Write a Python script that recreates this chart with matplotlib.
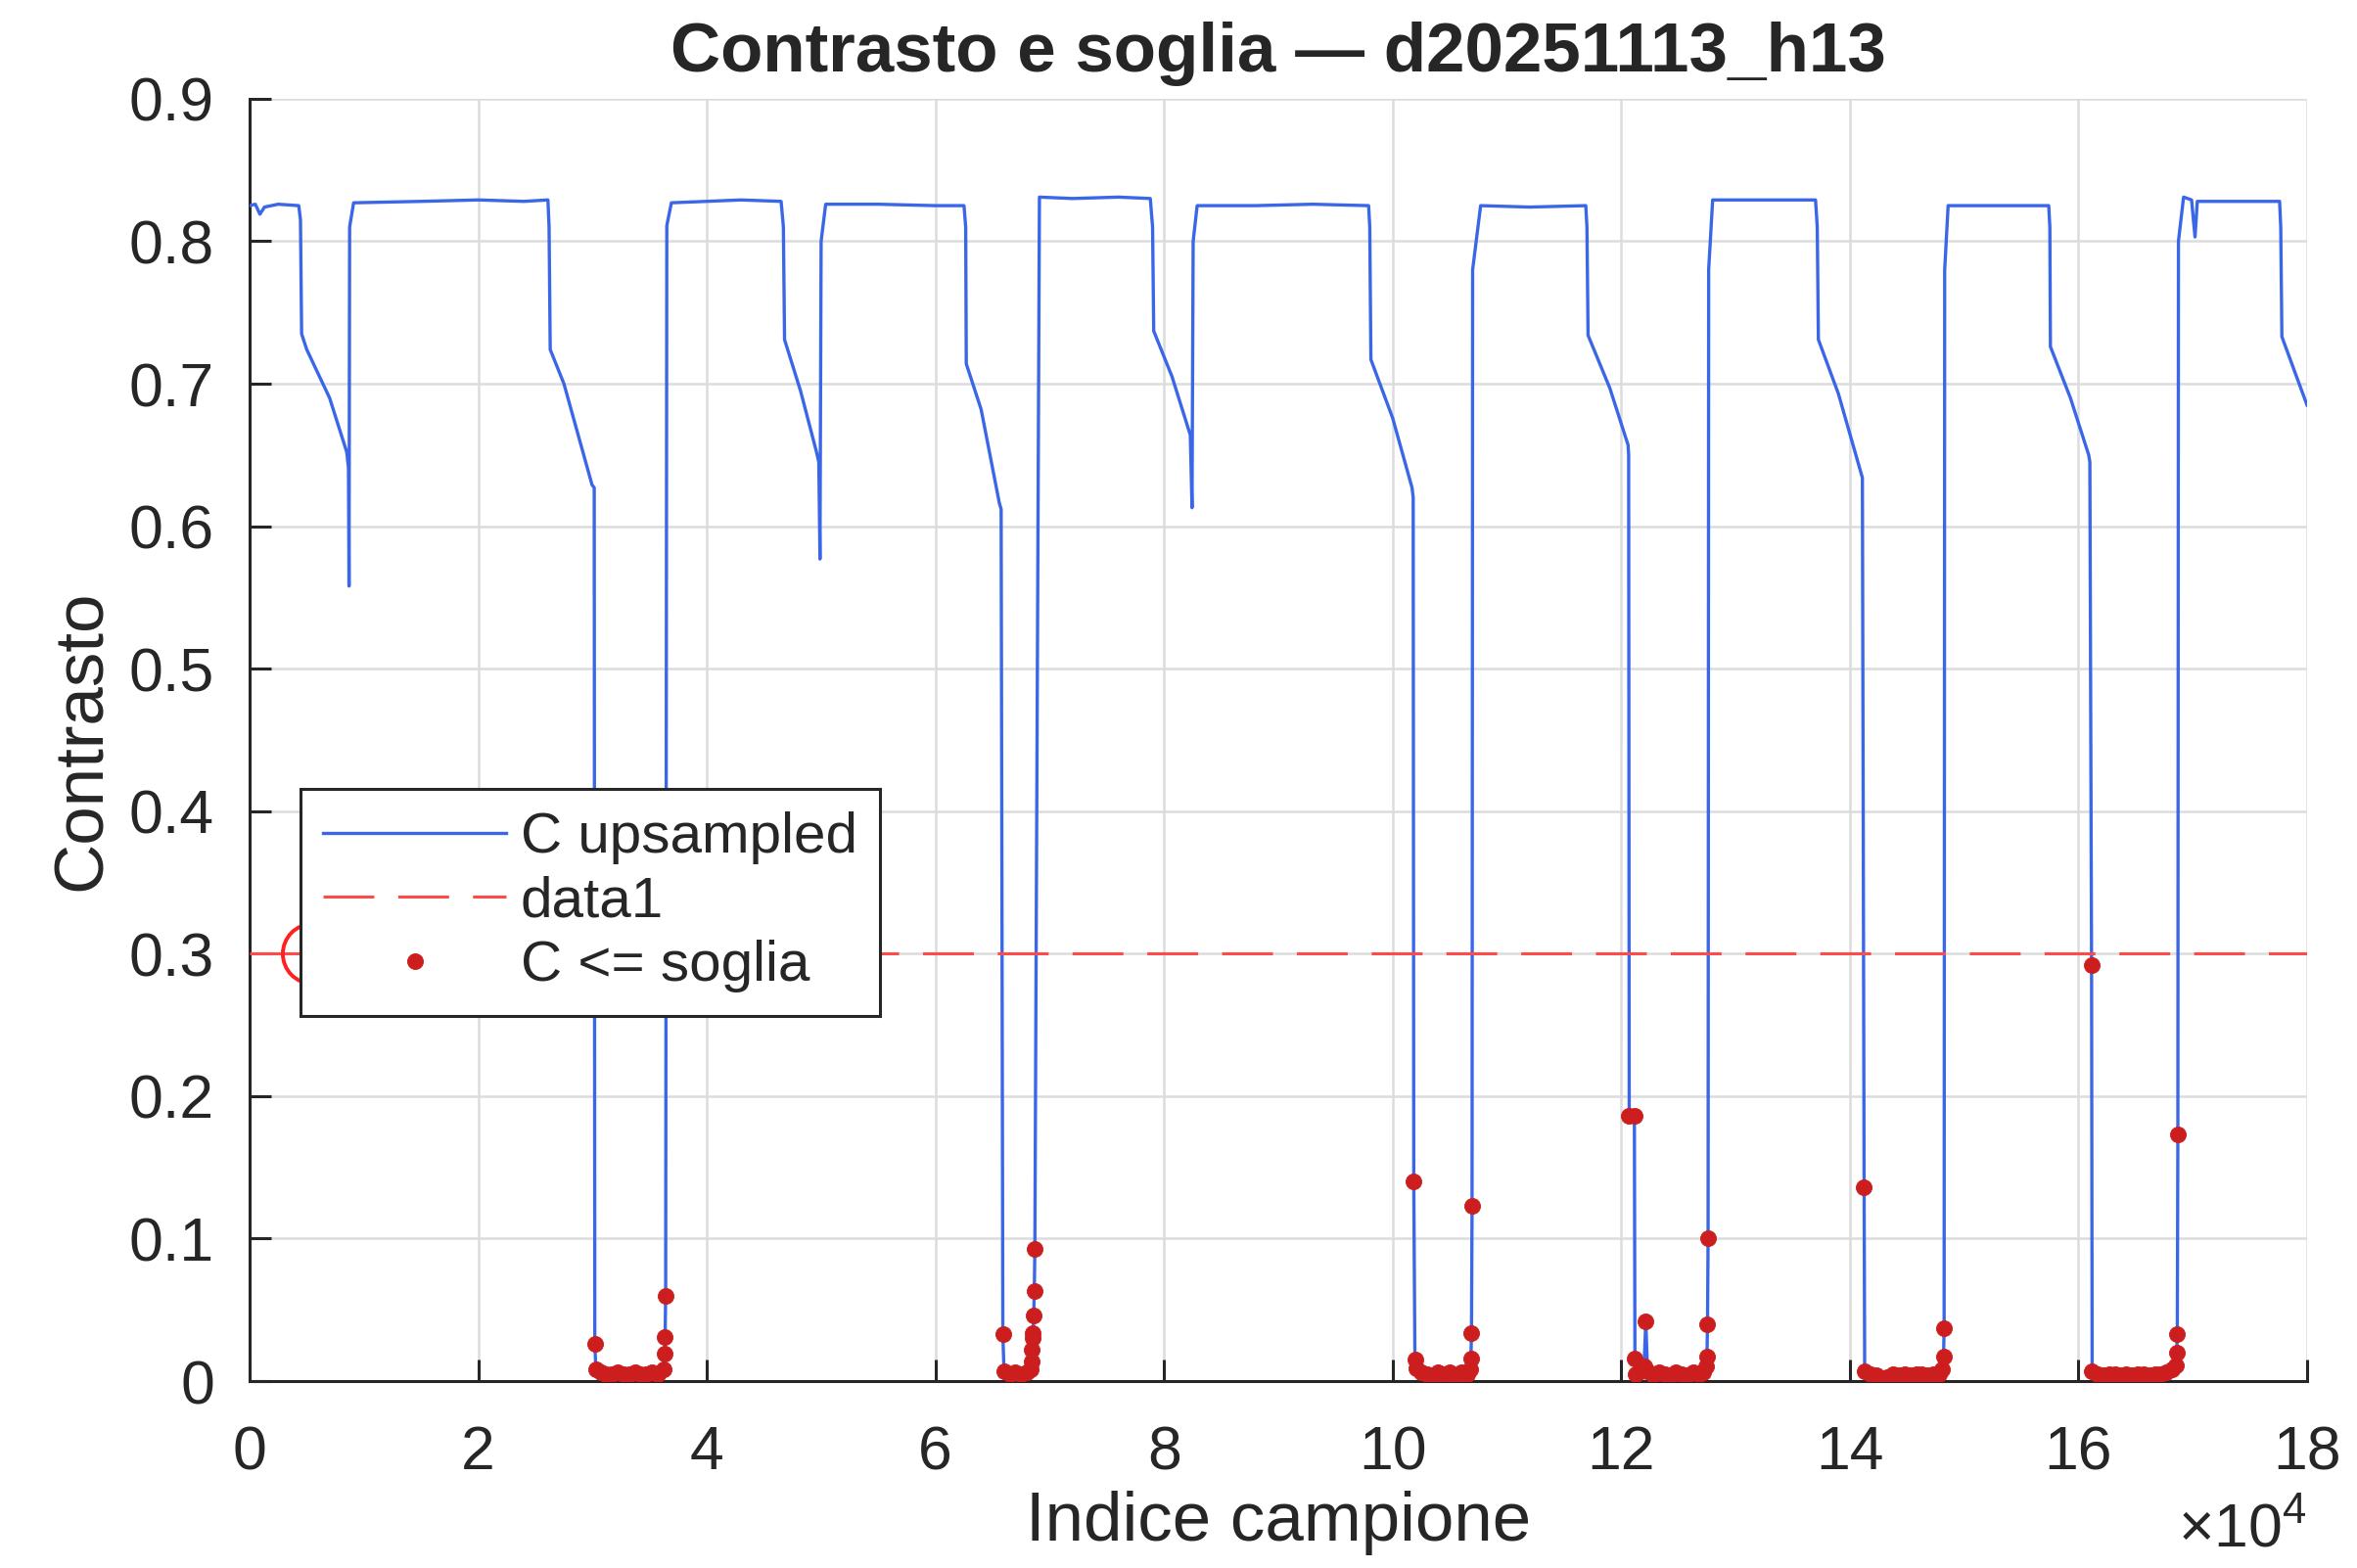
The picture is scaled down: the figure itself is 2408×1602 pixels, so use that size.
import numpy as np
import matplotlib
matplotlib.use("Agg")
import matplotlib.pyplot as plt

plt.rcParams['font.family'] = ['Liberation Sans', 'DejaVu Sans']
plt.rcParams['mathtext.fontset'] = 'custom'
plt.rcParams['mathtext.rm'] = 'Liberation Sans'
plt.rcParams['mathtext.it'] = 'Liberation Sans:italic'

# ---------------- data ----------------
title = "Contrasto e soglia \u2014 d20251113_h13"
xlabel = "Indice campione"
ylabel = "Contrasto"
legend_labels = ["C upsampled", "data1", "C <= soglia"]

soglia = 0.3
marker_x = 5500          # red open circle on the threshold line

sample_idx = [
    0, 500, 900, 1300, 2500, 4300, 4450, 4550, 5000, 7000, 8500, 8650, 8700, 8750, 9100,
    15000, 20000, 24000, 26100, 26200, 26300, 27500, 29960, 30150,
    30200, 30300, 30700, 31200, 31700, 32200, 32700, 33200, 33700, 34200, 34700, 35200, 35700,
    36200, 36300, 36350, 36400, 36500, 36900,
    40000, 43000, 46500, 46700, 46800, 48200, 49600, 49800, 49900, 50000, 50400,
    55000, 60000, 62500, 62650, 62700, 64000, 65600, 65750,
    65900, 66000, 66500, 67000, 67500, 68000, 68300, 68400, 68450, 68500, 68550, 68600,
    68650, 68700, 69100,
    72000, 76000, 78800, 79000, 79100, 80700, 82300, 82450, 82550, 82900,
    88000, 93000, 97900, 98000, 98100, 100000, 101700, 101800, 101850,
    101950, 102050, 102500, 103000, 103500, 104000, 104500, 105000, 105500, 106000, 106500,
    106800, 106850, 106900, 106950, 107000, 107700,
    112000, 116900, 117000, 117100, 119000, 120600, 120650, 120700, 121150,
    121200, 121300, 121700, 122000, 122150, 122300, 122800, 123300, 123800, 124300, 124800,
    125300, 125800, 126300, 126800, 127200, 127450, 127500, 127550, 127600, 127650, 128000,
    132000, 137000, 137150, 137250, 139000, 141100, 141250,
    141300, 141800, 142300, 142800, 143300, 143800, 144300, 144800, 145300, 145800, 146300,
    146800, 147300, 147800, 148100, 148200, 148250, 148300, 148600,
    153000, 157400, 157500, 157550, 159300, 160900, 161000,
    161150, 161200, 161700, 162200, 162700, 163200, 163700, 164200, 164700, 165200, 165700,
    166200, 166700, 167200, 167700, 168200, 168500, 168600, 168650, 168700, 168750, 169200,
    169900, 170200, 170400, 173000, 177600, 177700, 177800, 180000,
]
contrast = [
    0.825, 0.826, 0.819, 0.824, 0.826, 0.825, 0.815, 0.735, 0.724, 0.690, 0.652, 0.641, 0.558, 0.810, 0.827,
    0.828, 0.829, 0.828, 0.829, 0.810, 0.724, 0.700, 0.629, 0.627,
    0.026, 0.008, 0.006, 0.005, 0.005, 0.006, 0.005, 0.005, 0.006, 0.005, 0.005, 0.006, 0.005,
    0.008, 0.019, 0.031, 0.060, 0.811, 0.827,
    0.828, 0.829, 0.828, 0.810, 0.731, 0.695, 0.652, 0.645, 0.577, 0.800, 0.826,
    0.826, 0.825, 0.825, 0.810, 0.714, 0.682, 0.616, 0.612,
    0.033, 0.007, 0.005, 0.006, 0.005, 0.006, 0.008, 0.014, 0.022, 0.030, 0.034, 0.046,
    0.063, 0.093, 0.831,
    0.830, 0.831, 0.830, 0.810, 0.737, 0.705, 0.664, 0.613, 0.800, 0.825,
    0.825, 0.826, 0.825, 0.810, 0.717, 0.676, 0.627, 0.620, 0.140,
    0.015, 0.009, 0.006, 0.005, 0.003, 0.006, 0.005, 0.006, 0.002, 0.006, 0.005,
    0.008, 0.016, 0.034, 0.123, 0.780, 0.825,
    0.824, 0.825, 0.810, 0.734, 0.697, 0.657, 0.650, 0.186, 0.186,
    0.016, 0.005, 0.007, 0.010, 0.042, 0.007, 0.004, 0.006, 0.005, 0.004, 0.006,
    0.005, 0.004, 0.006, 0.005, 0.006, 0.010, 0.017, 0.040, 0.100, 0.780, 0.829,
    0.829, 0.829, 0.810, 0.731, 0.693, 0.634, 0.136,
    0.007, 0.005, 0.004, 0.002, 0.003, 0.005, 0.004, 0.005, 0.004, 0.005, 0.005,
    0.004, 0.005, 0.005, 0.008, 0.017, 0.037, 0.780, 0.825,
    0.825, 0.825, 0.810, 0.726, 0.690, 0.650, 0.645,
    0.292, 0.007, 0.005, 0.004, 0.005, 0.005, 0.004, 0.005, 0.004, 0.005, 0.005,
    0.004, 0.005, 0.005, 0.006, 0.008, 0.011, 0.020, 0.033, 0.173, 0.800, 0.831,
    0.829, 0.803, 0.828, 0.828, 0.828, 0.810, 0.733, 0.685,
]

x_ticks = [0, 20000, 40000, 60000, 80000, 100000, 120000, 140000, 160000, 180000]
x_tick_labels = ["0", "2", "4", "6", "8", "10", "12", "14", "16", "18"]
y_ticks = [0, 0.1, 0.2, 0.3, 0.4, 0.5, 0.6, 0.7, 0.8, 0.9]
y_tick_labels = ["0", "0.1", "0.2", "0.3", "0.4", "0.5", "0.6", "0.7", "0.8", "0.9"]

# ---------------- plot ----------------
x = np.array(sample_idx, dtype=float)
c = np.array(contrast, dtype=float)
below = c <= soglia

fig = plt.figure(figsize=(12.04, 8.01), dpi=200)
ax = fig.add_axes([0.1059, 0.1192, 0.8729, 0.8178])

blue = '#3a66e8'
dash_red = '#ff4a4a'
dot_red = '#cc1e1e'
dark = '#262626'

l1, = ax.plot(x, c, color=blue, lw=1.2, zorder=3)
l2, = ax.plot([x_ticks[0], x_ticks[-1]], [soglia, soglia], color=dash_red, lw=1.1,
              dashes=(17, 8), zorder=4)
l3, = ax.plot(x[below], c[below], linestyle='none', marker='o', ms=5.8,
              mfc=dot_red, mec=dot_red, mew=0.3, zorder=5)
ax.plot([marker_x], [soglia], linestyle='none', marker='o', ms=22, mfc='none',
        mec='#ff2020', mew=1.4, zorder=4)

ax.set_xlim(x_ticks[0], x_ticks[-1])
ax.set_ylim(y_ticks[0], y_ticks[-1])
ax.set_xticks(x_ticks)
ax.set_xticklabels(x_tick_labels)
ax.set_yticks(y_ticks)
ax.set_yticklabels(y_tick_labels)

ax.grid(True, color='#dcdcdc', lw=0.9)
ax.set_axisbelow(True)
for s in ['top', 'right']:
    ax.spines[s].set_visible(False)
for s in ['left', 'bottom']:
    ax.spines[s].set_color(dark)
    ax.spines[s].set_linewidth(1.1)
ax.tick_params(direction='in', length=8, width=1.1, colors=dark, labelsize=22.5,
               labelcolor=dark)
ax.tick_params(axis='x', pad=16)
ax.tick_params(axis='y', pad=13)

ax.set_title(title, fontsize=25.5, fontweight='bold', color=dark, pad=10)
ax.set_xlabel(xlabel, fontsize=25.5, color=dark, labelpad=3)
ax.set_ylabel(ylabel, fontsize=25.5, color=dark, labelpad=5)

ax.text(1.0, -0.116, r'$\times10^{4}$', transform=ax.transAxes, ha='right', va='center',
        fontsize=22.5, color=dark)

leg = ax.legend([l1, l2, l3], legend_labels, loc='upper left',
                bbox_to_anchor=(0.0247, 0.462), borderaxespad=0.0,
                fontsize=21, frameon=True, fancybox=False, framealpha=1.0,
                edgecolor='#262626', handlelength=3.2, handletextpad=0.25,
                borderpad=0.4, labelspacing=0.2)
leg.get_frame().set_linewidth(1.1)
leg.set_zorder(10)
for t in leg.get_texts():
    t.set_color(dark)

fig.savefig('out.png', dpi=200, facecolor='white')
